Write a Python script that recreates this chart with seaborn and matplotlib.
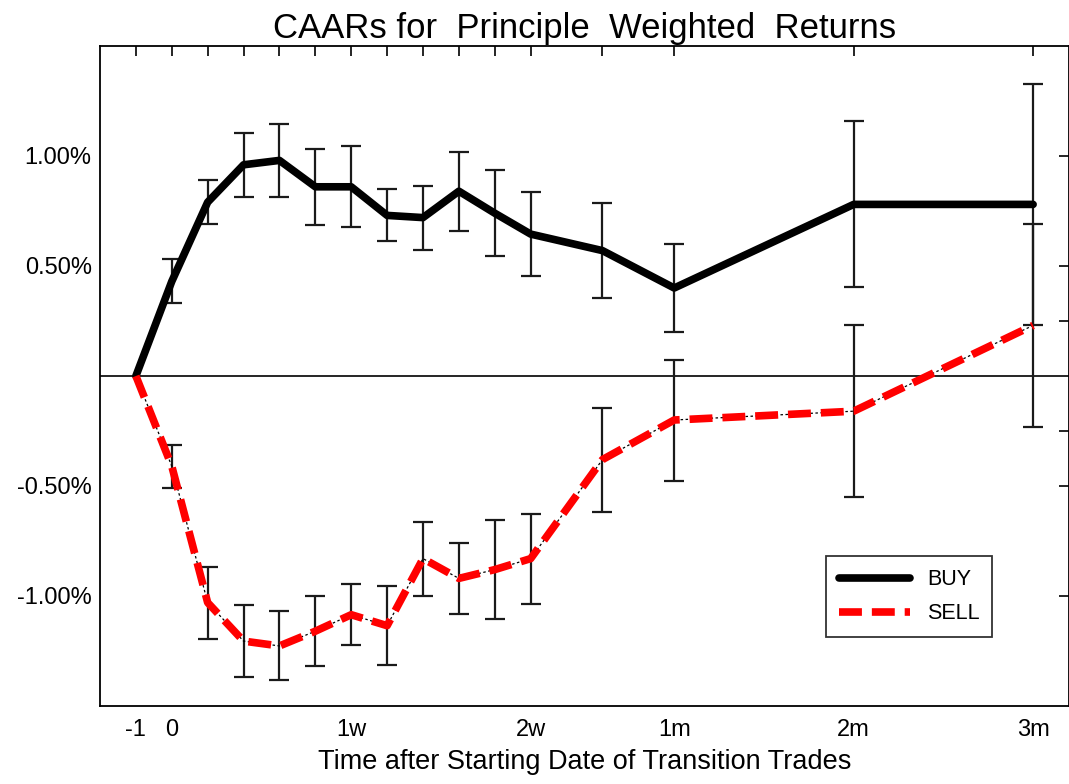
import numpy as np
import pandas as pd
import matplotlib
matplotlib.use("Agg")
import matplotlib.pyplot as plt
import seaborn as sns

# ---------------- data (values in %) ----------------
pos = [-1, 0, 1, 2, 3, 4, 5, 6, 7, 8, 9, 10, 12, 14, 19, 24]
buy = [0.0, 0.43, 0.79, 0.96, 0.98, 0.86, 0.86, 0.73, 0.72, 0.84, 0.74, 0.645, 0.57, 0.40, 0.78, 0.78]
buy_err = [0.0, 0.10, 0.10, 0.145, 0.165, 0.173, 0.184, 0.118, 0.145, 0.18, 0.195, 0.19, 0.216, 0.198, 0.377, 0.548]
sell = [0.0, -0.41, -1.03, -1.205, -1.227, -1.16, -1.085, -1.135, -0.83, -0.92, -0.88, -0.83, -0.38, -0.20, -0.16, 0.23]
sell_err = [0.0, 0.098, 0.164, 0.164, 0.157, 0.16, 0.139, 0.18, 0.168, 0.16, 0.225, 0.205, 0.236, 0.275, 0.39, 0.46]

tick_pos = [-1, 0, 5, 10, 14, 19, 24]
tick_lab = ["-1", "0", "1w", "2w", "1m", "2m", "3m"]
ytick_pos = [-1.0, -0.5, -0.25, 0.25, 0.5, 1.0]
ytick_lab = ["-1.00%", "-0.50%", "", "", "0.50%", "1.00%"]

df = pd.DataFrame({"t": pos, "buy": buy, "sell": sell})

sns.set_style("white")
plt.rcParams['font.family'] = ['Liberation Sans', 'DejaVu Sans']
plt.rcParams['text.color'] = 'black'
plt.rcParams['xtick.color'] = 'black'
plt.rcParams['ytick.color'] = 'black'
plt.rcParams['axes.labelcolor'] = 'black'

fig = plt.figure(figsize=(10.69, 7.84), dpi=100)
ax = fig.add_axes([100/1069, 78/784, 969/1069, 660/784])

ax.axhline(0, color="black", lw=1.2, zorder=1)

# error bars
ax.errorbar(pos[1:], buy[1:], yerr=buy_err[1:], fmt="none", ecolor="#1a1a1a",
            elinewidth=1.6, capsize=7.5, capthick=1.6, zorder=2)
ax.errorbar(pos[1:], sell[1:], yerr=sell_err[1:], fmt="none", ecolor="#1a1a1a",
            elinewidth=1.6, capsize=7.5, capthick=1.6, zorder=2)

sns.lineplot(data=df, x="t", y="buy", ax=ax, color="black", lw=5.5, label="BUY", zorder=4)
# thin black line under the red dashes
ax.plot(df["t"], df["sell"], color="black", lw=0.9, ls=(0, (2, 2)), zorder=3)
sns.lineplot(data=df, x="t", y="sell", ax=ax, color="red", lw=5.5,
             dashes=False, label="SELL", zorder=4)
ax.lines[-1].set_linestyle((0, (3.0, 1.3)))

ax.set_xlim(-2, 25)
ax.set_ylim(-1.5, 1.5)
ax.set_xticks(pos)
ax.set_xticklabels([tick_lab[tick_pos.index(p)] if p in tick_pos else "" for p in pos], fontsize=17)
ax.set_yticks(ytick_pos)
ax.set_yticklabels(ytick_lab, fontsize=17)
ax.tick_params(axis="both", direction="in", length=7, width=1.2, color="black",
               top=True, right=True)
ax.tick_params(axis="y", pad=6)
ax.tick_params(axis="x", pad=9)

for s in ax.spines.values():
    s.set_color("black")
    s.set_linewidth(1.3)

ax.set_xlabel("Time after Starting Date of Transition Trades", fontsize=19.5, labelpad=6)
ax.set_ylabel("")
ax.set_title("CAARs for  Principle  Weighted  Returns", fontsize=25, pad=6)

leg = ax.legend(loc="lower right", bbox_to_anchor=(0.932, 0.088), fontsize=15.5,
                frameon=True, fancybox=False, edgecolor="black", handlelength=3.3,
                borderpad=0.6, labelspacing=0.6)
leg.get_frame().set_linewidth(1.3)
# the legend for SELL should show red dashes
leg.get_lines()[1].set_linestyle((0, (3.0, 1.3)))

fig.savefig("out.png", dpi=100)
